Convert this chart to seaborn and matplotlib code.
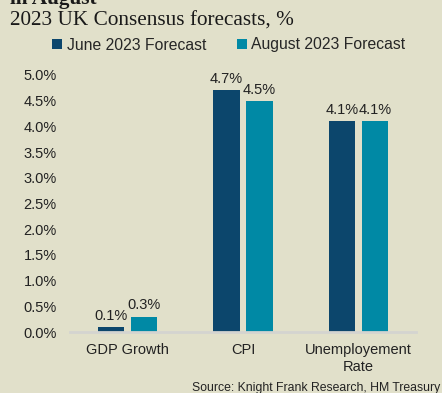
import matplotlib
matplotlib.use("Agg")
import matplotlib.pyplot as plt
import seaborn as sns
import pandas as pd
from matplotlib.patches import Patch

categories = ["GDP Growth", "CPI", "Unemployement\nRate"]
june = [0.1, 4.7, 4.1]
august = [0.3, 4.5, 4.1]
series = ["June 2023 Forecast", "August 2023 Forecast"]
yticks = [0.0, 0.5, 1.0, 1.5, 2.0, 2.5, 3.0, 3.5, 4.0, 4.5, 5.0]

bg = "#e1e0ca"
colors = ["#0c466c", "#0089a5"]

df = pd.DataFrame({
    "cat": categories * 2,
    "val": june + august,
    "series": [series[0]] * 3 + [series[1]] * 3,
})

sns.set_theme(style="white")
plt.rcParams["font.family"] = ["Liberation Sans", "DejaVu Sans"]

W, H = 442, 393
fig = plt.figure(figsize=(W / 100, H / 100), dpi=100, facecolor=bg)
ax = fig.add_axes([70 / W, 1 - 332 / H, 346 / W, 257 / H])
ax.set_facecolor(bg)

sns.barplot(data=df, x="cat", y="val", hue="series", palette=colors,
            width=0.572, gap=0.21, ax=ax, legend=False, saturation=1,
            linewidth=0, edgecolor="none")

ax.set_xlim(-0.5, 2.5)
ax.set_ylim(0, 5.0)
ax.set_yticks(yticks)
ax.set_yticklabels([f"{t:.1f}%" for t in yticks], fontsize=10.5, color="#222222")
ax.tick_params(axis="y", length=0, pad=9.5)
ax.tick_params(axis="x", length=0, pad=8, labelsize=10.5, labelcolor="#222222")
for lbl in ax.get_xticklabels():
    lbl.set_linespacing(1.3)
ax.set_xlabel("")
ax.set_ylabel("")
for s in ["top", "right", "left"]:
    ax.spines[s].set_visible(False)
ax.spines["bottom"].set_color("#d4d4d0")
ax.spines["bottom"].set_linewidth(2)

for cont in ax.containers:
    ax.bar_label(cont, labels=[f"{v:.1f}%" for v in cont.datavalues],
                 padding=3, fontsize=10.5, color="#222222")

handles = [Patch(facecolor=c, edgecolor="none") for c in colors]
fig.legend(handles, series, loc="center", bbox_to_anchor=(229 / W, 1 - 45 / H),
           ncol=2, frameon=False, fontsize=11.3, handlelength=0.6, handleheight=0.6,
           handletextpad=0.3, columnspacing=2.0, borderaxespad=0)

fig.text(10 / W, 1 - 26 / H, "2023 UK Consensus forecasts, %", family=["Liberation Serif", "DejaVu Serif"],
         fontsize=15.3, color="#1a1a1a", ha="left", va="baseline")
fig.text(10 / W, 1 - 4 / H, "in August", family=["Liberation Serif", "DejaVu Serif"],
         fontsize=15.3, fontweight="bold", color="#1a1a1a", ha="left", va="baseline")
fig.text(192 / W, 1 - 391 / H, "Source: Knight Frank Research, HM Treasury",
         fontsize=8.8, color="#222222", ha="left", va="baseline")

fig.savefig("out.png", dpi=100, facecolor=bg)
